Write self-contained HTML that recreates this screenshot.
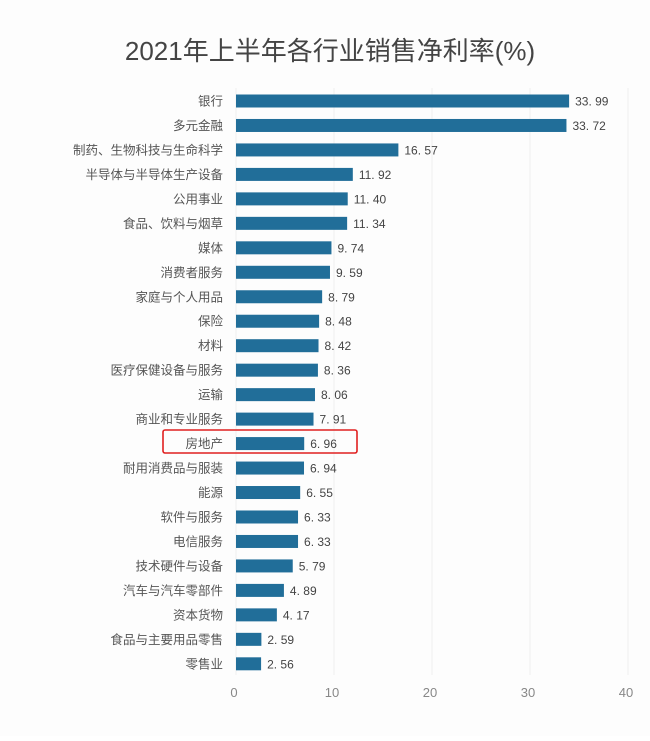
<!DOCTYPE html>
<html><head><meta charset="utf-8"><style>
body{margin:0;background:#fff;}
svg text{font-family:"Liberation Sans","Noto Sans CJK SC",sans-serif;}
</style></head><body>
<svg width="650" height="736" xmlns="http://www.w3.org/2000/svg">
<rect width="650" height="736" fill="#fdfdfd"/>
<text x="330" y="60" text-anchor="middle" font-size="26" fill="#444">2021年上半年各行业销售净利率(%)</text>
<g id="grid"></g><g id="bars"></g><g id="ticks"></g>
<rect x="163" y="430" width="194" height="23" rx="2" fill="none" stroke="#e02020" stroke-width="1.6"/>
</svg>
<script>
const categories=["银行","多元金融","制药、生物科技与生命科学","半导体与半导体生产设备","公用事业","食品、饮料与烟草","媒体","消费者服务","家庭与个人用品","保险","材料","医疗保健设备与服务","运输","商业和专业服务","房地产","耐用消费品与服装","能源","软件与服务","电信服务","技术硬件与设备","汽车与汽车零部件","资本货物","食品与主要用品零售","零售业"];
const values=[33.99,33.72,16.57,11.92,11.40,11.34,9.74,9.59,8.79,8.48,8.42,8.36,8.06,7.91,6.96,6.94,6.55,6.33,6.33,5.79,4.89,4.17,2.59,2.56];
const ticks=[0,10,20,30,40];
const NS="http://www.w3.org/2000/svg";
const x=v=>236+v*9.8;
const y=i=>101+i*24.47;
function mk(t,a,p){const e=document.createElementNS(NS,t);for(const k in a)e.setAttribute(k,a[k]);document.getElementById(p).appendChild(e);return e;}
ticks.forEach(t=>{
 const l=mk('line',{x1:x(t),x2:x(t),y1:88,y2:675,stroke:'#f0f0f0','stroke-width':1},'grid');
 
 
 const tx=mk('text',{x:x(t)-2,y:697,'text-anchor':'middle','font-size':13,fill:'#888','font-family':'Liberation Serif, serif'},'ticks');
 tx.textContent=t;
 
 
});
categories.forEach((c,i)=>{
 const cy=y(i);
 const r=mk('rect',{x:x(0),y:cy-6.5,width:x(values[i])-x(0),height:13,fill:'#216e99'},'bars');
 
 
 const lb=mk('text',{x:223,y:cy+4.5,'text-anchor':'end','font-size':12.5,fill:'#555'},'bars');
 lb.textContent=c;
 
 
 const vl=mk('text',{x:x(values[i])+6,y:cy+4.5,'font-size':12,fill:'#444','font-family':'Liberation Serif, serif'},'bars');
 vl.textContent=values[i].toFixed(2).replace('.','. ');
 
 
});
</script>
</body></html>
